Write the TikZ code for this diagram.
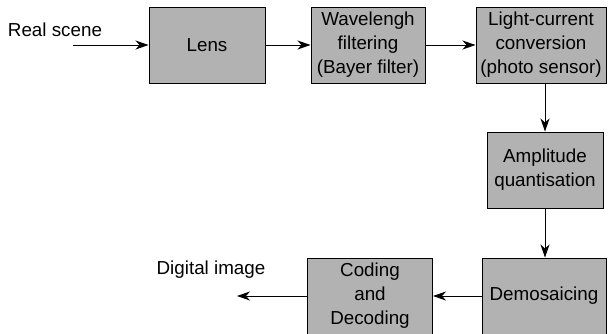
\documentclass[tikz,border=0pt]{standalone}
\usepackage{fontspec}
\setmainfont{Liberation Sans}
\usetikzlibrary{arrows.meta, positioning}
\definecolor{stagegray}{RGB}{178,178,178}

\begin{document}
\begin{tikzpicture}[x=1pt, y=-1pt,
        font=\fontsize{18.8}{24}\selectfont,
        stagebox/.style={rectangle, draw, fill=stagegray, line width=1pt, minimum height=76pt, inner sep=0pt, align=center},
        arrow/.style={-{Stealth[length=13pt, width=9pt, inset=4pt]}, line width=0.9pt}
    ]
        \path[use as bounding box, clip] (0,0) rectangle (608,333);

        % Top row, left to right
        \node[stagebox, minimum width=116pt] (lens) at (207,45) {Lens};
        \node[stagebox, minimum width=114pt] (filter) at (368,45) {Wavelengh\\filtering\\(Bayer filter)};
        \node[stagebox, minimum width=130pt] (sensor) at (541,45) {Light-current\\conversion\\(photo sensor)};

        % Right column going down
        \node[stagebox, minimum width=116pt] (quant) at (545,170) {Amplitude\\quantisation};
        \node[stagebox, minimum width=124pt] (demosaic) at (544,296) {Demosaicing};
        \node[stagebox, minimum width=125pt] (coding) at (370,296) {Coding\\and\\Decoding};

        % Input and output labels
        \node (scene) at (55,30) {Real scene};
        \node (output) at (211,270) {Digital image};
        \coordinate (scenein) at (73,45);
        \coordinate (imageout) at (237,296);

        % Arrows
        \draw[arrow] (scenein) -- (lens);
        \draw[arrow] (lens) -- (filter);
        \draw[arrow] (filter) -- (sensor);
        \draw[arrow] (sensor.south -| quant) -- (quant);
        \draw[arrow] (quant) -- (quant |- demosaic.north);
        \draw[arrow] (demosaic) -- (coding);
        \draw[arrow] (coding) -- (imageout);
    \end{tikzpicture}
\end{document}
